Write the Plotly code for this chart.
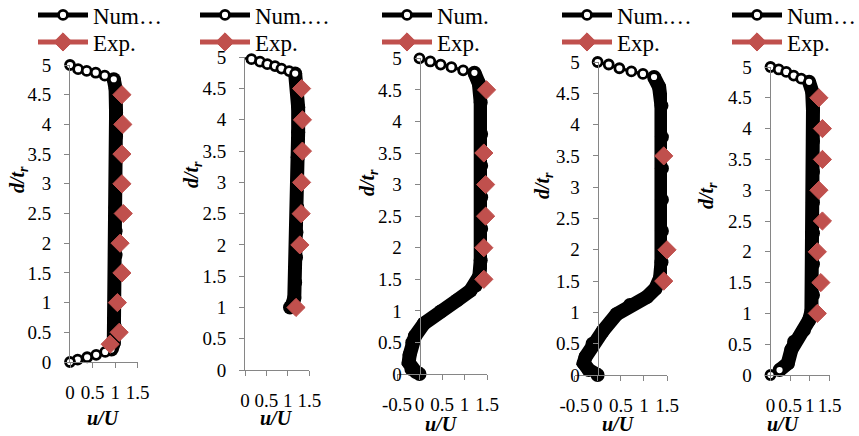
import plotly.graph_objects as go

# ---------------- data ----------------
# Panel 1
num1_top_x = [0, 0.18, 0.37, 0.57, 0.77, 0.97]
num1_top_y = [5, 4.93, 4.9, 4.87, 4.82, 4.76]
num1_band_x = [0.97, 1.01, 1.02, 1.02, 1.02, 1.02, 1.01, 1.01, 1.01, 1.0, 1.0, 0.99, 0.97, 0.92]
num1_band_y = [4.76, 4.6, 4.2, 3.8, 3.4, 3.0, 2.6, 2.2, 1.8, 1.4, 1.0, 0.6, 0.32, 0.21]
num1_bot_x = [0.92, 0.78, 0.58, 0.38, 0.17, 0]
num1_bot_y = [0.21, 0.17, 0.12, 0.08, 0.04, 0]
exp1_x = [1.15, 1.17, 1.15, 1.15, 1.18, 1.11, 1.15, 1.05, 1.09, 0.89]
exp1_y = [4.5, 4.0, 3.5, 3.0, 2.5, 2.0, 1.5, 1.0, 0.5, 0.3]

# Panel 2
num2_top_x = [-0.06, 0.15, 0.35, 0.52, 0.7, 0.85, 1.03, 1.17]
num2_top_y = [5, 4.97, 4.93, 4.89, 4.86, 4.82, 4.78, 4.74]
num2_band_x = [1.17, 1.22, 1.24, 1.24, 1.23, 1.23, 1.22, 1.2, 1.19, 1.17, 1.15, 1.1, 1.05]
num2_band_y = [4.74, 4.55, 4.2, 3.8, 3.4, 3.0, 2.6, 2.2, 1.8, 1.4, 1.15, 1.04, 1.0]
exp2_x = [1.32, 1.34, 1.34, 1.32, 1.31, 1.28, 1.19]
exp2_y = [4.5, 4.0, 3.5, 3.0, 2.5, 2.0, 1.0]

# Panel 3
num3_top_x = [0, 0.24, 0.47, 0.71, 0.97, 1.22]
num3_top_y = [5, 4.95, 4.9, 4.86, 4.81, 4.77]
num3_band_x = [1.22, 1.32, 1.36, 1.37, 1.37, 1.37, 1.37, 1.36, 1.33, 1.25, 1.13, 0.84,
               0.47, 0.1, -0.1, -0.16, -0.22, -0.24, -0.18, -0.08, 0]
num3_band_y = [4.77, 4.6, 4.3, 3.8, 3.3, 2.8, 2.3, 1.8, 1.55, 1.4, 1.32, 1.17,
               0.99, 0.8, 0.6, 0.5, 0.3, 0.18, 0.08, 0.03, 0]
exp3_x = [1.49, 1.54, 1.43, 1.47, 1.47, 1.43, 1.43]
exp3_y = [4.5, 4.0, 3.5, 3.0, 2.5, 2.0, 1.5]

# Panel 4
num4_top_x = [0, 0.24, 0.47, 0.73, 0.98, 1.22]
num4_top_y = [5, 4.96, 4.9, 4.85, 4.81, 4.76]
num4_band_x = [1.22, 1.33, 1.38, 1.39, 1.39, 1.39, 1.39, 1.38, 1.35, 1.25, 1.07, 0.7,
               0.41, 0.11, -0.11, -0.26, -0.3, -0.19, 0]
num4_band_y = [4.76, 4.6, 4.3, 3.8, 3.3, 2.8, 2.3, 1.8, 1.55, 1.38, 1.25, 1.12,
               0.97, 0.7, 0.5, 0.29, 0.19, 0.08, 0]
exp4_x = [1.51, 1.55, 1.43, 1.51, 1.51, 1.5, 1.43]
exp4_y = [4.5, 4.0, 3.5, 3.0, 2.5, 2.0, 1.5]

# Panel 5
num5_top_x = [0, 0.21, 0.4, 0.59, 0.78, 0.98]
num5_top_y = [5, 4.96, 4.92, 4.86, 4.81, 4.76]
num5_band_x = [0.98, 1.06, 1.08, 1.08, 1.08, 1.08, 1.08, 1.08, 1.08, 1.04, 0.98, 0.85,
               0.6, 0.53, 0.44, 0.23]
num5_band_y = [4.76, 4.6, 4.3, 3.8, 3.3, 2.8, 2.3, 1.8, 1.3, 1.03, 0.89, 0.73,
               0.54, 0.41, 0.19, 0.08]
num5_bot_x = [0.23, 0]
num5_bot_y = [0.08, 0]
exp5_x = [1.23, 1.32, 1.32, 1.23, 1.32, 1.19, 1.28, 1.19]
exp5_y = [4.5, 4.0, 3.5, 3.0, 2.5, 2.0, 1.5, 1.0]

legend_num_names = ["Num…", "Num.…", "Num.", "Num.…", "Num…"]
legend_exp_name = "Exp."

y_ticks = [0, 0.5, 1, 1.5, 2, 2.5, 3, 3.5, 4, 4.5, 5]
y_tick_text = ["0", "0.5", "1", "1.5", "2", "2.5", "3", "3.5", "4", "4.5", "5"]
x_ticks_pos = [0, 0.5, 1, 1.5]
x_ticks_pos_text = ["0", "0.5", "1", "1.5"]
x_ticks_neg = [-0.5, 0, 0.5, 1, 1.5]
x_ticks_neg_text = ["-0.5", "0", "0.5", "1", "1.5"]

x_title = "<b><i>u/U</i></b>"
y_title = "<b><i>d/t<sub>r</sub></i></b>"

# ---------------- layout geometry (pixels) ----------------
W, H = 859, 436
FONT = "Liberation Serif"
BLACK = "#000000"
RED = "#C0504D"
GREY = "#868686"

panels = [
    dict(top=(num1_top_x, num1_top_y), band=(num1_band_x, num1_band_y), bot=(num1_bot_x, num1_bot_y),
         exp=(exp1_x, exp1_y), xr=[0, 1.5], xpx=[70, 137.7], ypx=[65, 362],
         xt=(x_ticks_pos, x_ticks_pos_text), leg=33, xtit=(103, 418), ytit=(18, 180)),
    dict(top=(num2_top_x, num2_top_y), band=(num2_band_x, num2_band_y), bot=None,
         exp=(exp2_x, exp2_y), xr=[0, 1.5], xpx=[245, 309.3], ypx=[57.3, 370],
         xt=(x_ticks_pos, x_ticks_pos_text), leg=195, xtit=(276, 418), ytit=(192, 175)),
    dict(top=(num3_top_x, num3_top_y), band=(num3_band_x, num3_band_y), bot=None,
         exp=(exp3_x, exp3_y), xr=[-0.5, 1.5], xpx=[397, 487], ypx=[58.3, 374],
         xt=(x_ticks_neg, x_ticks_neg_text), leg=377, xtit=(441, 424), ytit=(368, 183)),
    dict(top=(num4_top_x, num4_top_y), band=(num4_band_x, num4_band_y), bot=None,
         exp=(exp4_x, exp4_y), xr=[-0.5, 1.5], xpx=[574.5, 667], ypx=[62, 375],
         xt=(x_ticks_neg, x_ticks_neg_text), leg=557, xtit=(618, 424), ytit=(543, 186)),
    dict(top=(num5_top_x, num5_top_y), band=(num5_band_x, num5_band_y), bot=(num5_bot_x, num5_bot_y),
         exp=(exp5_x, exp5_y), xr=[0, 1.5], xpx=[770.5, 829.5], ypx=[67, 375],
         xt=(x_ticks_pos, x_ticks_pos_text), leg=727, xtit=(783, 424), ytit=(707, 196)),
]
LEG_NUM_TOP = -6.5
LEG_EXP_TOP = 20.5
Y_LABEL_STANDOFF = 9
X_LABEL_STANDOFF = 8

fig = go.Figure()
annotations = []
layout_updates = {}

circle_marker = dict(symbol="circle", size=9, color="white", line=dict(color=BLACK, width=2.8))
band_marker = dict(symbol="circle", size=14, color=BLACK, line=dict(color=BLACK, width=0))
diamond_marker = dict(symbol="diamond", size=14, color=RED, line=dict(color=RED, width=1))


def legend_box(x_px, top_px):
    return dict(x=x_px / W, y=1 - top_px / H, xanchor="left", yanchor="top",
                bgcolor="rgba(0,0,0,0)", borderwidth=0, itemwidth=50,
                font=dict(family=FONT, size=23, color=BLACK), tracegroupgap=0,
                itemclick=False, itemdoubleclick=False)


for i, p in enumerate(panels, start=1):
    xa = "x" if i == 1 else f"x{i}"
    ya = "y" if i == 1 else f"y{i}"
    lg_num = "legend" if i == 1 else f"legend{2 * i - 1}"
    lg_exp = f"legend{2 * i}"

    # thick dense part of the numerical profile
    bx, by = p["band"]
    fig.add_trace(go.Scatter(x=bx, y=by, mode="lines+markers", xaxis=xa, yaxis=ya,
                             line=dict(color=BLACK, width=14), marker=band_marker,
                             showlegend=False, cliponaxis=False, hoverinfo="skip"))
    # sparse numerical points drawn as open circles
    for part in ("top", "bot"):
        if p[part] is None:
            continue
        cx, cy = p[part]
        fig.add_trace(go.Scatter(x=cx, y=cy, mode="lines+markers", xaxis=xa, yaxis=ya,
                                 line=dict(color=BLACK, width=3), marker=circle_marker,
                                 showlegend=False, cliponaxis=False))
    ex, ey = p["exp"]
    fig.add_trace(go.Scatter(x=ex, y=ey, mode="markers", xaxis=xa, yaxis=ya,
                             marker=diamond_marker, showlegend=False, cliponaxis=False))
    # legend entries (Excel-style legend: line + marker)
    fig.add_trace(go.Scatter(x=[None], y=[None], mode="lines+markers", xaxis=xa, yaxis=ya,
                             name=legend_num_names[i - 1], legend=lg_num,
                             line=dict(color=BLACK, width=5),
                             marker=dict(symbol="circle", size=9, color="white",
                                         line=dict(color=BLACK, width=2.8))))
    fig.add_trace(go.Scatter(x=[None], y=[None], mode="lines+markers", xaxis=xa, yaxis=ya,
                             name=legend_exp_name, legend=lg_exp,
                             line=dict(color=RED, width=5), marker=diamond_marker))
    layout_updates[lg_num] = legend_box(p["leg"], LEG_NUM_TOP)
    layout_updates[lg_exp] = legend_box(p["leg"], LEG_EXP_TOP)

    x0, x1 = p["xpx"]
    yt, yb = p["ypx"]
    xdom = [x0 / W, x1 / W]
    ydom = [1 - yb / H, 1 - yt / H]
    xr = p["xr"]
    zero_frac = (x0 + (0 - xr[0]) / (xr[1] - xr[0]) * (x1 - x0)) / W

    tv, tt = p["xt"]
    layout_updates["xaxis" if i == 1 else f"xaxis{i}"] = dict(
        domain=xdom, range=xr, anchor=ya, showline=True, linecolor=GREY, linewidth=1,
        ticks="outside", ticklen=5, tickcolor=GREY, tickwidth=1,
        tickvals=tv, ticktext=tt, tickangle=0, showgrid=False, zeroline=False,
        tickfont=dict(family=FONT, size=19, color=BLACK), ticklabelstandoff=X_LABEL_STANDOFF,
        automargin=False, fixedrange=True)
    ydict = dict(
        domain=ydom, range=[0, 5], showline=True, linecolor=GREY, linewidth=1,
        ticks="outside", ticklen=5, tickcolor=GREY, tickwidth=1,
        tickvals=y_ticks, ticktext=y_tick_text, showgrid=False, zeroline=False,
        tickfont=dict(family=FONT, size=19, color=BLACK), ticklabelstandoff=Y_LABEL_STANDOFF,
        automargin=False, fixedrange=True)
    if xr[0] < 0:
        ydict.update(anchor="free", position=zero_frac)
    else:
        ydict.update(anchor=xa)
    layout_updates["yaxis" if i == 1 else f"yaxis{i}"] = ydict

    tx, ty = p["xtit"]
    annotations.append(dict(text=x_title, x=tx / W, y=1 - ty / H, xref="paper", yref="paper",
                            showarrow=False, xanchor="center", yanchor="middle",
                            font=dict(family=FONT, size=20, color=BLACK)))
    sx, sy = p["ytit"]
    annotations.append(dict(text=y_title, x=sx / W, y=1 - sy / H, xref="paper", yref="paper",
                            showarrow=False, xanchor="center", yanchor="middle", textangle=-90,
                            font=dict(family=FONT, size=20, color=BLACK)))

fig.update_layout(
    width=W, height=H, margin=dict(l=0, r=0, t=0, b=0, pad=0, autoexpand=False),
    paper_bgcolor="white", plot_bgcolor="white",
    annotations=annotations, hovermode=False,
    **layout_updates,
)

fig.write_html("out.html", config=dict(displayModeBar=False, staticPlot=True))
